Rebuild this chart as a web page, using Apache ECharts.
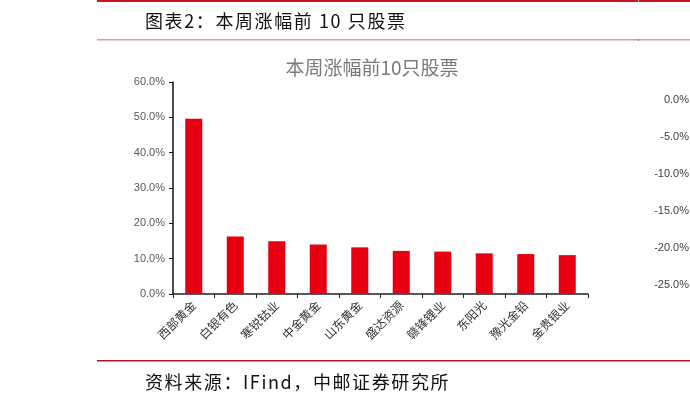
<!DOCTYPE html>
<html>
<head>
<meta charset="utf-8">
<script src="https://cdn.jsdelivr.net/npm/echarts@6/dist/echarts.min.js"></script>
<style>
html,body{margin:0;padding:0;background:#fff;}
#wrap{position:relative;width:690px;height:401px;overflow:hidden;}
#c{position:absolute;left:0;top:0;width:690px;height:401px;}
.txt{position:absolute;font-family:"Noto Sans CJK SC","Noto Sans",sans-serif;font-size:18px;color:#111;letter-spacing:1.6px;white-space:nowrap;line-height:20px;}
</style>
</head>
<body>
<div id="wrap">
<div id="c"></div>
<div class="txt" id="hdr" style="left:145px;top:10px;">图表2：本周涨幅前 10 只股票</div>
<div class="txt" id="ftr" style="left:145px;top:371px;">资料来源：IFind，中邮证券研究所</div>
</div>
<script>
var categories = ['西部黄金','白银有色','寒锐钴业','中金黄金','山东黄金','盛达资源','赣锋锂业','东阳光','豫光金铅','金贵银业'];
var values = [49.6, 16.3, 14.9, 14.0, 13.2, 12.2, 12.0, 11.5, 11.3, 11.0];
var rightTicks = [0, -5, -10, -15, -20, -25];

var chart = echarts.init(document.getElementById('c'));
var cjk = '"Noto Sans CJK SC", "Noto Sans", sans-serif';
chart.setOption({
  animation: false,
  title: [
    {text: '本周涨幅前10只股票', left: 367, top: 53, textAlign: 'center',
     textStyle: {fontFamily: cjk, fontSize: 19, fontWeight: 'normal', color: '#7a7a7a'}}
  ],
  graphic: [
    {type: 'rect', shape: {x: 97, y: 0, width: 593, height: 2}, style: {fill: '#c8161d'}},
    {type: 'rect', shape: {x: 97, y: 39, width: 593, height: 1.5}, style: {fill: '#e39a9c'}},
    {type: 'rect', shape: {x: 638, y: 0, width: 1, height: 2}, style: {fill: '#b0a0a0'}},
    {type: 'rect', shape: {x: 638, y: 39, width: 1, height: 2}, style: {fill: '#b07070'}},
    {type: 'rect', shape: {x: 97, y: 360, width: 593, height: 1.5}, style: {fill: '#a8171c'}}
  ],
  grid: [
    {left: 173, right: 102, top: 82, bottom: 107},
    {left: 696, width: 10, top: 100, height: 185}
  ],
  xAxis: [
    {type: 'category', data: categories, gridIndex: 0,
     axisLine: {lineStyle: {color: '#222', width: 1.5}},
     axisTick: {show: true, alignWithLabel: false, length: 4, lineStyle: {color: '#222'}},
     axisLabel: {rotate: 45, interval: 0, fontFamily: cjk, fontSize: 12, color: '#333', margin: 9}},
    {type: 'value', gridIndex: 1, show: false}
  ],
  yAxis: [
    {type: 'value', gridIndex: 0, min: 0, max: 60, interval: 10,
     axisLine: {show: true, lineStyle: {color: '#111', width: 1.5}},
     axisTick: {show: true, length: 4, lineStyle: {color: '#111'}},
     splitLine: {show: false},
     axisLabel: {formatter: function(v){return v.toFixed(1)+'%';},
                 fontFamily: 'Liberation Sans, Arial, sans-serif', fontSize: 11, color: '#595959', margin: 8}},
    {type: 'value', gridIndex: 1, min: rightTicks[rightTicks.length-1], max: rightTicks[0], interval: 5,
     axisLine: {show: false}, axisTick: {show: false}, splitLine: {show: false},
     axisLabel: {formatter: function(v){return v.toFixed(1)+'%';},
                 fontFamily: 'Liberation Sans, Arial, sans-serif', fontSize: 11, color: '#404040', margin: 7}}
  ],
  series: [
    {type: 'bar', xAxisIndex: 0, yAxisIndex: 0, data: values, barWidth: 17,
     itemStyle: {color: '#e60012'}}
  ]
});
</script>
</body>
</html>
